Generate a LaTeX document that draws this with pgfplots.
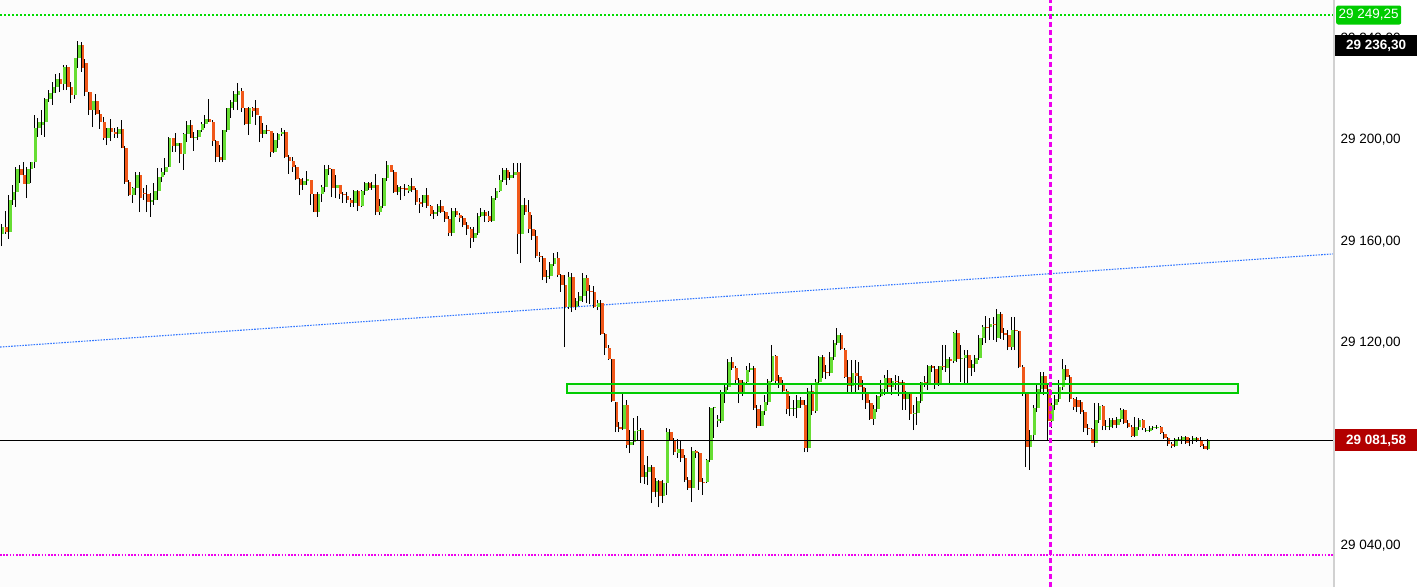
\documentclass[border=0pt]{standalone}
\usepackage{fontspec}
\setmainfont{Liberation Sans}
\usepackage{pgfplots}
\usepackage{pgfplotstable}
\pgfplotsset{compat=1.18}

\definecolor{upc}{RGB}{102,221,51}
\definecolor{dnc}{RGB}{240,88,26}
\definecolor{bgc}{RGB}{252,252,252}
\definecolor{lvlgreen}{RGB}{0,221,0}
\definecolor{boxgreen}{RGB}{0,204,0}
\definecolor{zonefill}{RGB}{236,250,236}
\definecolor{lastred}{RGB}{178,0,0}
\definecolor{trendblue}{RGB}{51,119,255}
\definecolor{mag}{RGB}{238,0,238}

% i = candle number, o h l c = open high low close
\pgfplotstableread{
i o h l c
1 29163.0 29166.9 29158.2 29165.7
2 29165.7 29172.0 29163.0 29163.7
3 29163.7 29178.3 29161.0 29176.4
4 29176.4 29182.3 29174.4 29179.5
5 29179.5 29189.4 29173.6 29188.6
6 29188.6 29190.2 29183.1 29186.2
7 29186.2 29191.3 29182.7 29182.7
8 29182.7 29189.4 29177.1 29188.6
9 29188.6 29191.3 29183.1 29191.3
10 29191.3 29209.9 29189.0 29204.7
11 29204.7 29208.7 29201.2 29207.1
12 29205.9 29211.8 29202.0 29207.1
13 29207.1 29216.6 29201.2 29216.2
14 29216.2 29219.7 29215.0 29218.5
15 29218.5 29222.9 29213.8 29220.9
16 29220.9 29226.0 29218.5 29224.0
17 29224.0 29226.4 29218.9 29222.1
18 29222.1 29229.6 29219.7 29228.8
19 29228.8 29229.6 29219.7 29220.9
20 29220.9 29222.9 29214.6 29217.7
21 29217.7 29232.3 29216.2 29232.3
22 29232.3 29239.0 29228.4 29237.4
23 29237.4 29238.6 29226.8 29228.4
24 29230.4 29231.9 29217.3 29218.9
25 29218.9 29218.9 29209.9 29211.8
26 29211.8 29215.4 29205.1 29215.4
27 29215.4 29218.1 29209.9 29210.2
28 29210.2 29211.8 29204.3 29207.1
29 29207.1 29209.1 29200.0 29200.8
30 29200.8 29204.7 29198.0 29204.7
31 29204.7 29208.3 29199.6 29203.2
32 29203.2 29204.7 29200.8 29202.4
33 29202.4 29205.1 29200.8 29204.3
34 29204.3 29207.9 29196.8 29196.8
35 29196.8 29197.6 29182.7 29183.4
36 29183.4 29184.2 29177.9 29178.3
37 29178.3 29181.5 29175.2 29181.1
38 29181.1 29187.4 29178.3 29186.2
39 29186.2 29187.4 29171.6 29177.1
40 29179.1 29181.1 29176.4 29178.7
41 29178.7 29182.3 29171.6 29175.6
42 29175.6 29179.1 29169.7 29176.4
43 29176.4 29183.1 29174.4 29179.9
44 29179.9 29189.0 29176.4 29185.4
45 29185.4 29189.0 29183.4 29187.4
46 29187.4 29192.9 29186.2 29189.4
47 29189.4 29201.2 29189.4 29200.8
48 29200.8 29200.8 29195.3 29197.6
49 29197.6 29202.8 29195.3 29198.8
50 29198.8 29198.8 29190.9 29194.5
51 29194.5 29202.8 29188.2 29202.4
52 29202.4 29207.5 29199.2 29205.9
53 29205.9 29207.9 29200.8 29200.8
54 29200.8 29203.2 29195.7 29201.2
55 29201.2 29203.9 29200.0 29203.9
56 29203.9 29207.1 29203.2 29206.3
57 29206.3 29209.9 29204.7 29208.3
58 29208.3 29216.2 29207.1 29207.1
59 29207.1 29207.9 29197.6 29199.6
60 29199.6 29200.0 29191.3 29193.3
61 29193.3 29198.0 29191.3 29192.1
62 29192.1 29203.9 29191.3 29203.9
63 29203.9 29212.6 29203.2 29212.6
64 29212.6 29215.8 29208.7 29215.0
65 29215.0 29219.3 29211.8 29218.1
66 29217.7 29222.5 29211.8 29219.3
67 29219.3 29220.5 29211.0 29212.6
68 29212.6 29212.6 29205.9 29206.3
69 29206.3 29213.0 29202.0 29212.6
70 29212.6 29213.0 29209.1 29211.4
71 29212.6 29215.8 29205.9 29209.9
72 29209.5 29209.5 29199.2 29202.4
73 29202.4 29206.7 29200.8 29203.9
74 29203.9 29205.9 29202.4 29203.5
75 29203.5 29203.5 29193.3 29195.3
76 29195.3 29202.8 29194.9 29200.0
77 29200.0 29202.8 29196.8 29202.4
78 29202.4 29204.7 29201.6 29203.2
79 29203.2 29203.9 29192.9 29193.3
80 29193.3 29194.1 29186.6 29191.7
81 29191.7 29193.3 29187.4 29189.4
82 29189.4 29190.2 29184.2 29184.6
83 29184.6 29185.0 29178.3 29182.3
84 29182.3 29185.0 29180.3 29183.8
85 29183.8 29187.8 29182.3 29184.6
86 29184.2 29184.2 29174.4 29178.7
87 29178.7 29178.7 29171.6 29171.6
88 29171.6 29179.5 29169.7 29178.7
89 29178.7 29182.3 29175.6 29181.5
90 29181.5 29190.2 29179.5 29188.6
91 29189.0 29190.2 29186.2 29188.6
92 29188.6 29188.6 29177.5 29181.1
93 29181.1 29186.2 29177.1 29182.3
94 29182.3 29182.3 29176.7 29178.7
95 29178.7 29179.5 29175.2 29178.3
96 29177.9 29179.5 29175.2 29176.4
97 29176.4 29177.1 29173.6 29175.2
98 29175.2 29180.3 29173.6 29179.9
99 29179.9 29180.3 29172.0 29174.0
100 29174.0 29180.3 29173.6 29179.9
101 29179.9 29183.4 29178.3 29183.1
102 29183.1 29183.4 29180.3 29181.1
103 29181.1 29183.4 29180.3 29182.3
104 29182.3 29186.6 29170.4 29171.6
105 29171.6 29176.7 29170.4 29174.0
106 29174.0 29185.0 29173.2 29185.0
107 29185.0 29191.7 29183.8 29190.2
108 29190.2 29190.2 29187.4 29187.4
109 29187.4 29188.2 29179.1 29179.5
110 29179.5 29182.3 29178.3 29181.5
111 29181.1 29181.9 29176.4 29180.7
112 29181.1 29182.7 29177.9 29180.3
113 29179.9 29182.3 29179.1 29181.9
114 29181.9 29185.0 29179.5 29180.3
115 29180.3 29181.1 29174.4 29175.6
116 29175.6 29177.1 29171.2 29174.8
117 29175.2 29178.3 29173.6 29178.3
118 29178.3 29181.1 29173.2 29174.0
119 29174.0 29174.4 29170.0 29170.8
120 29170.8 29172.4 29168.9 29171.6
121 29171.6 29174.8 29170.0 29174.0
122 29174.0 29176.4 29171.2 29171.6
123 29171.6 29172.0 29167.7 29168.9
124 29168.9 29170.0 29162.2 29163.4
125 29163.4 29173.2 29162.2 29172.0
126 29172.0 29173.2 29169.7 29170.4
127 29170.4 29171.2 29167.7 29169.3
128 29169.3 29170.0 29165.7 29166.5
129 29166.5 29167.7 29162.6 29164.9
130 29164.9 29165.7 29157.4 29161.4
131 29161.4 29165.7 29159.8 29163.4
132 29163.4 29171.2 29162.6 29170.0
133 29170.0 29173.2 29169.7 29171.6
134 29171.6 29172.4 29167.7 29170.0
135 29170.0 29172.0 29167.7 29168.1
136 29168.1 29177.9 29167.7 29177.1
137 29177.1 29181.1 29176.4 29179.9
138 29179.9 29186.2 29179.5 29184.2
139 29184.2 29189.0 29183.4 29188.2
140 29188.2 29189.0 29182.3 29185.0
141 29185.0 29187.4 29184.2 29186.2
142 29186.2 29190.9 29185.0 29187.4
143 29187.4 29190.9 29155.1 29163.0
144 29163.0 29190.9 29151.5 29174.4
145 29174.4 29177.1 29170.4 29171.6
146 29171.6 29176.4 29163.4 29164.9
147 29164.9 29170.4 29160.6 29162.2
148 29162.2 29164.5 29153.5 29154.3
149 29154.3 29155.9 29151.9 29153.9
150 29153.5 29154.3 29144.8 29146.0
151 29146.0 29148.8 29143.6 29146.4
152 29146.4 29151.9 29145.2 29151.1
153 29151.1 29155.5 29150.3 29153.5
154 29153.5 29155.9 29146.0 29146.8
155 29146.8 29147.2 29140.1 29142.9
156 29142.9 29146.8 29118.4 29134.2
157 29134.2 29148.0 29133.4 29146.0
158 29146.0 29147.6 29132.2 29134.2
159 29134.2 29137.7 29133.0 29136.5
160 29136.5 29140.1 29134.6 29138.6
161 29138.6 29147.6 29136.2 29145.6
162 29145.6 29146.8 29135.8 29140.5
163 29140.5 29142.9 29135.4 29140.1
164 29140.1 29142.5 29133.8 29134.2
165 29134.2 29136.9 29133.0 29135.8
166 29135.8 29136.9 29123.2 29123.5
167 29123.5 29123.9 29115.3 29118.0
168 29118.0 29119.2 29113.3 29113.7
169 29113.7 29113.7 29096.7 29097.1
170 29096.7 29096.7 29084.9 29086.9
171 29086.9 29088.9 29084.9 29086.1
172 29086.1 29100.3 29085.7 29095.6
173 29095.6 29097.5 29078.6 29079.8
174 29079.8 29085.7 29076.6 29081.0
175 29081.0 29090.4 29079.8 29085.3
176 29085.3 29091.2 29081.8 29085.7
177 29085.7 29086.5 29064.8 29067.2
178 29067.2 29071.9 29064.4 29069.2
179 29069.2 29075.5 29064.0 29071.1
180 29071.1 29071.9 29056.9 29061.3
181 29061.3 29066.8 29059.3 29065.6
182 29065.6 29066.2 29055.2 29059.7
183 29059.7 29066.0 29056.9 29064.8
184 29064.8 29086.5 29060.1 29084.9
185 29084.9 29086.1 29081.4 29081.8
186 29081.8 29082.6 29075.9 29077.0
187 29076.6 29082.2 29074.7 29078.2
188 29078.2 29081.8 29073.1 29074.7
189 29074.7 29075.9 29065.2 29066.0
190 29066.0 29067.2 29062.1 29062.9
191 29062.9 29079.0 29057.3 29077.4
192 29077.4 29077.8 29074.7 29076.6
193 29076.6 29077.0 29062.1 29065.2
194 29065.2 29066.8 29060.1 29064.8
195 29065.2 29074.3 29064.8 29073.9
196 29073.9 29094.8 29073.1 29094.4
197 29094.4 29094.8 29082.6 29094.8
198 29089.3 29091.6 29086.9 29090.1
199 29089.3 29101.5 29088.5 29100.3
200 29100.3 29103.4 29096.3 29102.7
201 29102.7 29113.7 29101.5 29112.5
202 29112.5 29114.5 29109.4 29110.1
203 29110.1 29110.9 29103.4 29105.4
204 29105.4 29106.2 29096.3 29100.3
205 29100.3 29105.4 29099.1 29104.6
206 29104.6 29110.9 29103.8 29109.4
207 29109.4 29112.1 29108.6 29110.1
208 29110.1 29110.9 29093.6 29094.4
209 29094.0 29095.6 29086.5 29087.3
210 29087.3 29095.6 29087.3 29093.2
211 29093.2 29099.5 29091.6 29096.7
212 29096.7 29105.8 29095.6 29105.0
213 29105.0 29119.2 29104.6 29114.9
214 29114.9 29115.3 29103.8 29105.0
215 29106.6 29107.4 29102.3 29103.8
216 29103.8 29105.4 29100.3 29101.1
217 29101.1 29101.9 29092.0 29094.0
218 29094.0 29099.1 29091.2 29094.4
219 29094.0 29097.5 29091.2 29094.4
220 29094.4 29099.5 29090.4 29097.5
221 29097.5 29098.7 29094.4 29095.6
222 29095.6 29097.5 29077.0 29078.6
223 29078.6 29102.3 29077.0 29101.1
224 29101.1 29103.4 29091.6 29093.2
225 29093.2 29105.8 29092.4 29104.6
226 29104.6 29114.9 29103.4 29114.5
227 29114.5 29115.3 29106.2 29108.6
228 29108.6 29111.3 29105.8 29108.2
229 29108.2 29116.5 29107.0 29114.5
230 29114.5 29121.2 29113.3 29120.0
231 29120.0 29125.9 29119.2 29123.2
232 29123.2 29123.9 29117.2 29117.6
233 29117.2 29118.0 29106.2 29106.6
234 29106.6 29113.3 29100.7 29103.1
235 29103.1 29113.3 29100.7 29108.2
236 29108.2 29113.3 29100.7 29107.0
237 29107.0 29112.5 29101.5 29102.7
238 29102.7 29105.4 29097.5 29100.3
239 29100.3 29102.3 29094.0 29096.3
240 29096.3 29097.5 29089.7 29090.1
241 29090.1 29095.6 29087.7 29094.0
242 29094.0 29099.5 29092.8 29099.1
243 29099.1 29105.4 29098.7 29101.9
244 29101.9 29107.4 29099.5 29106.2
245 29106.2 29109.4 29100.3 29102.7
246 29102.7 29106.2 29099.5 29105.0
247 29105.0 29107.4 29101.5 29104.6
248 29104.6 29107.0 29099.1 29104.2
249 29104.6 29105.4 29093.6 29097.9
250 29097.9 29101.1 29093.6 29100.3
251 29100.3 29100.3 29089.7 29092.0
252 29092.0 29095.6 29085.7 29092.4
253 29092.4 29098.7 29087.7 29097.1
254 29097.1 29104.6 29096.3 29104.6
255 29104.6 29107.0 29102.7 29104.2
256 29104.2 29111.3 29101.5 29110.9
257 29110.9 29111.3 29108.6 29110.1
258 29109.8 29110.9 29101.9 29103.8
259 29103.8 29110.9 29103.1 29110.9
260 29110.9 29119.2 29109.4 29110.5
261 29110.1 29119.2 29108.6 29113.7
262 29113.7 29114.5 29103.8 29112.9
263 29112.9 29124.3 29112.1 29124.0
264 29124.0 29125.1 29112.5 29113.7
265 29113.7 29119.2 29104.6 29114.1
266 29114.1 29117.2 29103.8 29115.3
267 29115.3 29117.2 29104.2 29110.1
268 29110.1 29113.3 29107.0 29111.7
269 29111.7 29115.3 29108.6 29114.1
270 29114.1 29123.2 29113.3 29122.0
271 29122.0 29127.1 29119.2 29126.3
272 29126.3 29130.6 29120.0 29125.9
273 29126.3 29129.8 29121.2 29127.5
274 29127.5 29130.2 29121.2 29127.1
275 29122.0 29133.4 29120.4 29131.4
276 29131.4 29132.2 29121.6 29124.0
277 29124.0 29125.9 29121.2 29123.2
278 29123.2 29125.1 29117.2 29118.4
279 29118.4 29130.2 29117.2 29125.1
280 29125.1 29130.2 29117.2 29124.7
281 29124.7 29124.7 29110.1 29110.5
282 29110.5 29111.3 29099.1 29100.3
283 29100.3 29100.3 29071.1 29079.0
284 29079.0 29085.7 29070.0 29083.7
285 29083.7 29095.6 29081.8 29094.4
286 29094.4 29103.4 29092.8 29101.9
287 29101.9 29108.6 29100.7 29107.0
288 29107.0 29108.6 29099.5 29101.9
289 29101.9 29103.4 29081.8 29089.3
290 29089.3 29097.5 29086.5 29095.6
291 29095.6 29099.5 29093.6 29097.9
292 29097.9 29105.4 29096.7 29102.7
293 29102.7 29113.7 29101.5 29109.8
294 29109.8 29111.3 29105.4 29106.6
295 29106.6 29107.4 29096.7 29097.9
296 29097.9 29098.3 29093.6 29094.8
297 29097.5 29098.7 29092.8 29094.8
298 29096.7 29097.5 29092.0 29092.8
299 29092.8 29093.6 29084.9 29086.5
300 29086.5 29088.1 29083.7 29086.1
301 29086.1 29086.5 29080.6 29080.6
302 29080.6 29096.3 29079.0 29089.7
303 29089.7 29096.3 29088.5 29095.2
304 29095.2 29095.6 29085.7 29087.3
305 29086.9 29089.7 29085.7 29086.9
306 29086.9 29090.4 29085.7 29089.7
307 29089.7 29090.4 29086.5 29087.7
308 29087.7 29090.8 29086.5 29090.1
309 29090.1 29094.4 29088.9 29093.6
310 29093.6 29094.0 29088.1 29088.5
311 29088.5 29089.7 29086.5 29086.9
312 29086.9 29087.7 29082.9 29083.3
313 29083.3 29090.8 29082.9 29086.9
314 29086.9 29090.4 29085.7 29089.7
315 29089.7 29090.1 29085.7 29086.5
316 29085.3 29086.5 29084.9 29085.3
317 29085.3 29087.3 29084.9 29086.5
318 29086.5 29087.3 29085.7 29086.5
319 29086.5 29087.7 29086.1 29086.9
320 29086.9 29087.3 29084.1 29084.5
321 29084.1 29084.9 29082.2 29082.6
322 29082.6 29083.0 29079.4 29080.2
323 29080.2 29081.0 29078.6 29079.4
324 29079.4 29082.6 29079.0 29082.2
325 29081.8 29083.0 29081.4 29082.2
326 29081.4 29083.3 29080.2 29083.0
327 29083.0 29083.3 29080.2 29080.6
328 29081.4 29082.6 29079.4 29081.4
329 29081.4 29083.3 29080.2 29082.6
330 29082.6 29083.0 29081.0 29081.4
331 29081.4 29083.0 29079.0 29079.4
332 29079.4 29080.2 29078.2 29078.2
333 29078.2 29082.0 29077.8 29081.58
}\candles

\begin{document}
\begin{tikzpicture}
\useasboundingbox (0,0) rectangle (1417pt,587pt);
\begin{axis}[
  at={(0,0)}, anchor=south west,
  scale only axis, width=1333pt, height=587pt,
  xmin=0.174, xmax=367.14,
  ymin=29023.84, ymax=29255.17,
  axis line style={draw=none},
  axis background/.style={fill=bgc},
  xtick=\empty,
  ytick={29040,29080,29120,29160,29200,29240},
  scaled y ticks=false,
  yticklabel pos=right,
  major tick length=0pt,
  /pgf/number format/fixed,
  /pgf/number format/fixed zerofill,
  /pgf/number format/precision=2,
  /pgf/number format/use comma,
  /pgf/number format/1000 sep={\ },
  /pgf/number format/assume math mode=true,
  yticklabel style={anchor=west, xshift=4pt, text=black,
    font=\fontsize{13.5}{16}\selectfont},
  clip=false,
]
% zone fill behind the candles
\fill[zonefill] (axis cs:156.26,29100.29) rectangle (axis cs:340.99,29103.84);

% trend line
\addplot[trendblue, line width=1.1pt, dash pattern=on 1.6pt off 1.2pt, forget plot]
  coordinates {(0.174,29118.4) (367.14,29155.1)};

% wicks: from low to high
\addplot[forget plot, black, line width=1pt, mark=none,
  quiver={u=0, v={\thisrow{h}-\thisrow{l}}}]
  table[x expr=\thisrow{i}-0.44, y=l] {\candles};

% rising bodies
\addplot[forget plot, upc, line width=2.7pt, mark=none,
  restrict expr to domain={\thisrow{c}-\thisrow{o}}{0:1000},
  quiver={u=0, v={max(\thisrow{c}-\thisrow{o},0.4)}}]
  table[x=i, y=o] {\candles};

% falling bodies
\addplot[forget plot, dnc, line width=2.7pt, mark=none,
  restrict expr to domain={\thisrow{c}-\thisrow{o}}{-1000:-0.001},
  quiver={u=0, v={\thisrow{o}-\thisrow{c}}}]
  table[x=i, y=c] {\candles};

% zone border
\draw[boxgreen, line width=1.5pt]
  (axis cs:156.26,29100.29) rectangle (axis cs:340.99,29103.84);

% levels
\draw[lvlgreen, line width=2.4pt, dash pattern=on 2.4pt off 1.6pt]
  (axis cs:0.174,29249.25) -- (axis cs:367.14,29249.25);
\draw[mag, line width=1.4pt, dash pattern=on 1.6pt off 1.6pt]
  (axis cs:0.174,29036.45) -- (axis cs:367.14,29036.45);
\draw[black, line width=1pt]
  (axis cs:0.174,29081.58) -- (axis cs:367.14,29081.58);
\draw[mag, line width=3pt, dash pattern=on 5pt off 3pt]
  (axis cs:289.23,29023.84) -- (axis cs:289.23,29255.17);

\coordinate (pb) at (rel axis cs:1,0);
\coordinate (pg) at (axis cs:367.14,29249.25);
\coordinate (pk) at (axis cs:367.14,29236.30);
\coordinate (pr) at (axis cs:367.14,29081.58);
\end{axis}

% right scale border
\draw[black!18, line width=2pt] ([xshift=1pt]pb) -- ++(0,587pt);

\node[anchor=west, fill=boxgreen, rounded corners=2pt, text=white, inner sep=0pt,
  minimum width=65pt, minimum height=19pt, font=\fontsize{13.5}{16}\selectfont]
  at ([xshift=3pt]pg) {29 249,25};
\node[anchor=west, fill=black, text=white, inner sep=0pt,
  minimum width=82pt, minimum height=21pt, font=\fontsize{13.5}{16}\selectfont\bfseries]
  at ([xshift=2pt,yshift=2pt]pk) {29 236,30};
\node[anchor=west, fill=lastred, text=white, inner sep=0pt,
  minimum width=82pt, minimum height=22pt, font=\fontsize{13.5}{16}\selectfont\bfseries]
  at ([xshift=2pt]pr) {29 081,58};
\end{tikzpicture}
\end{document}
